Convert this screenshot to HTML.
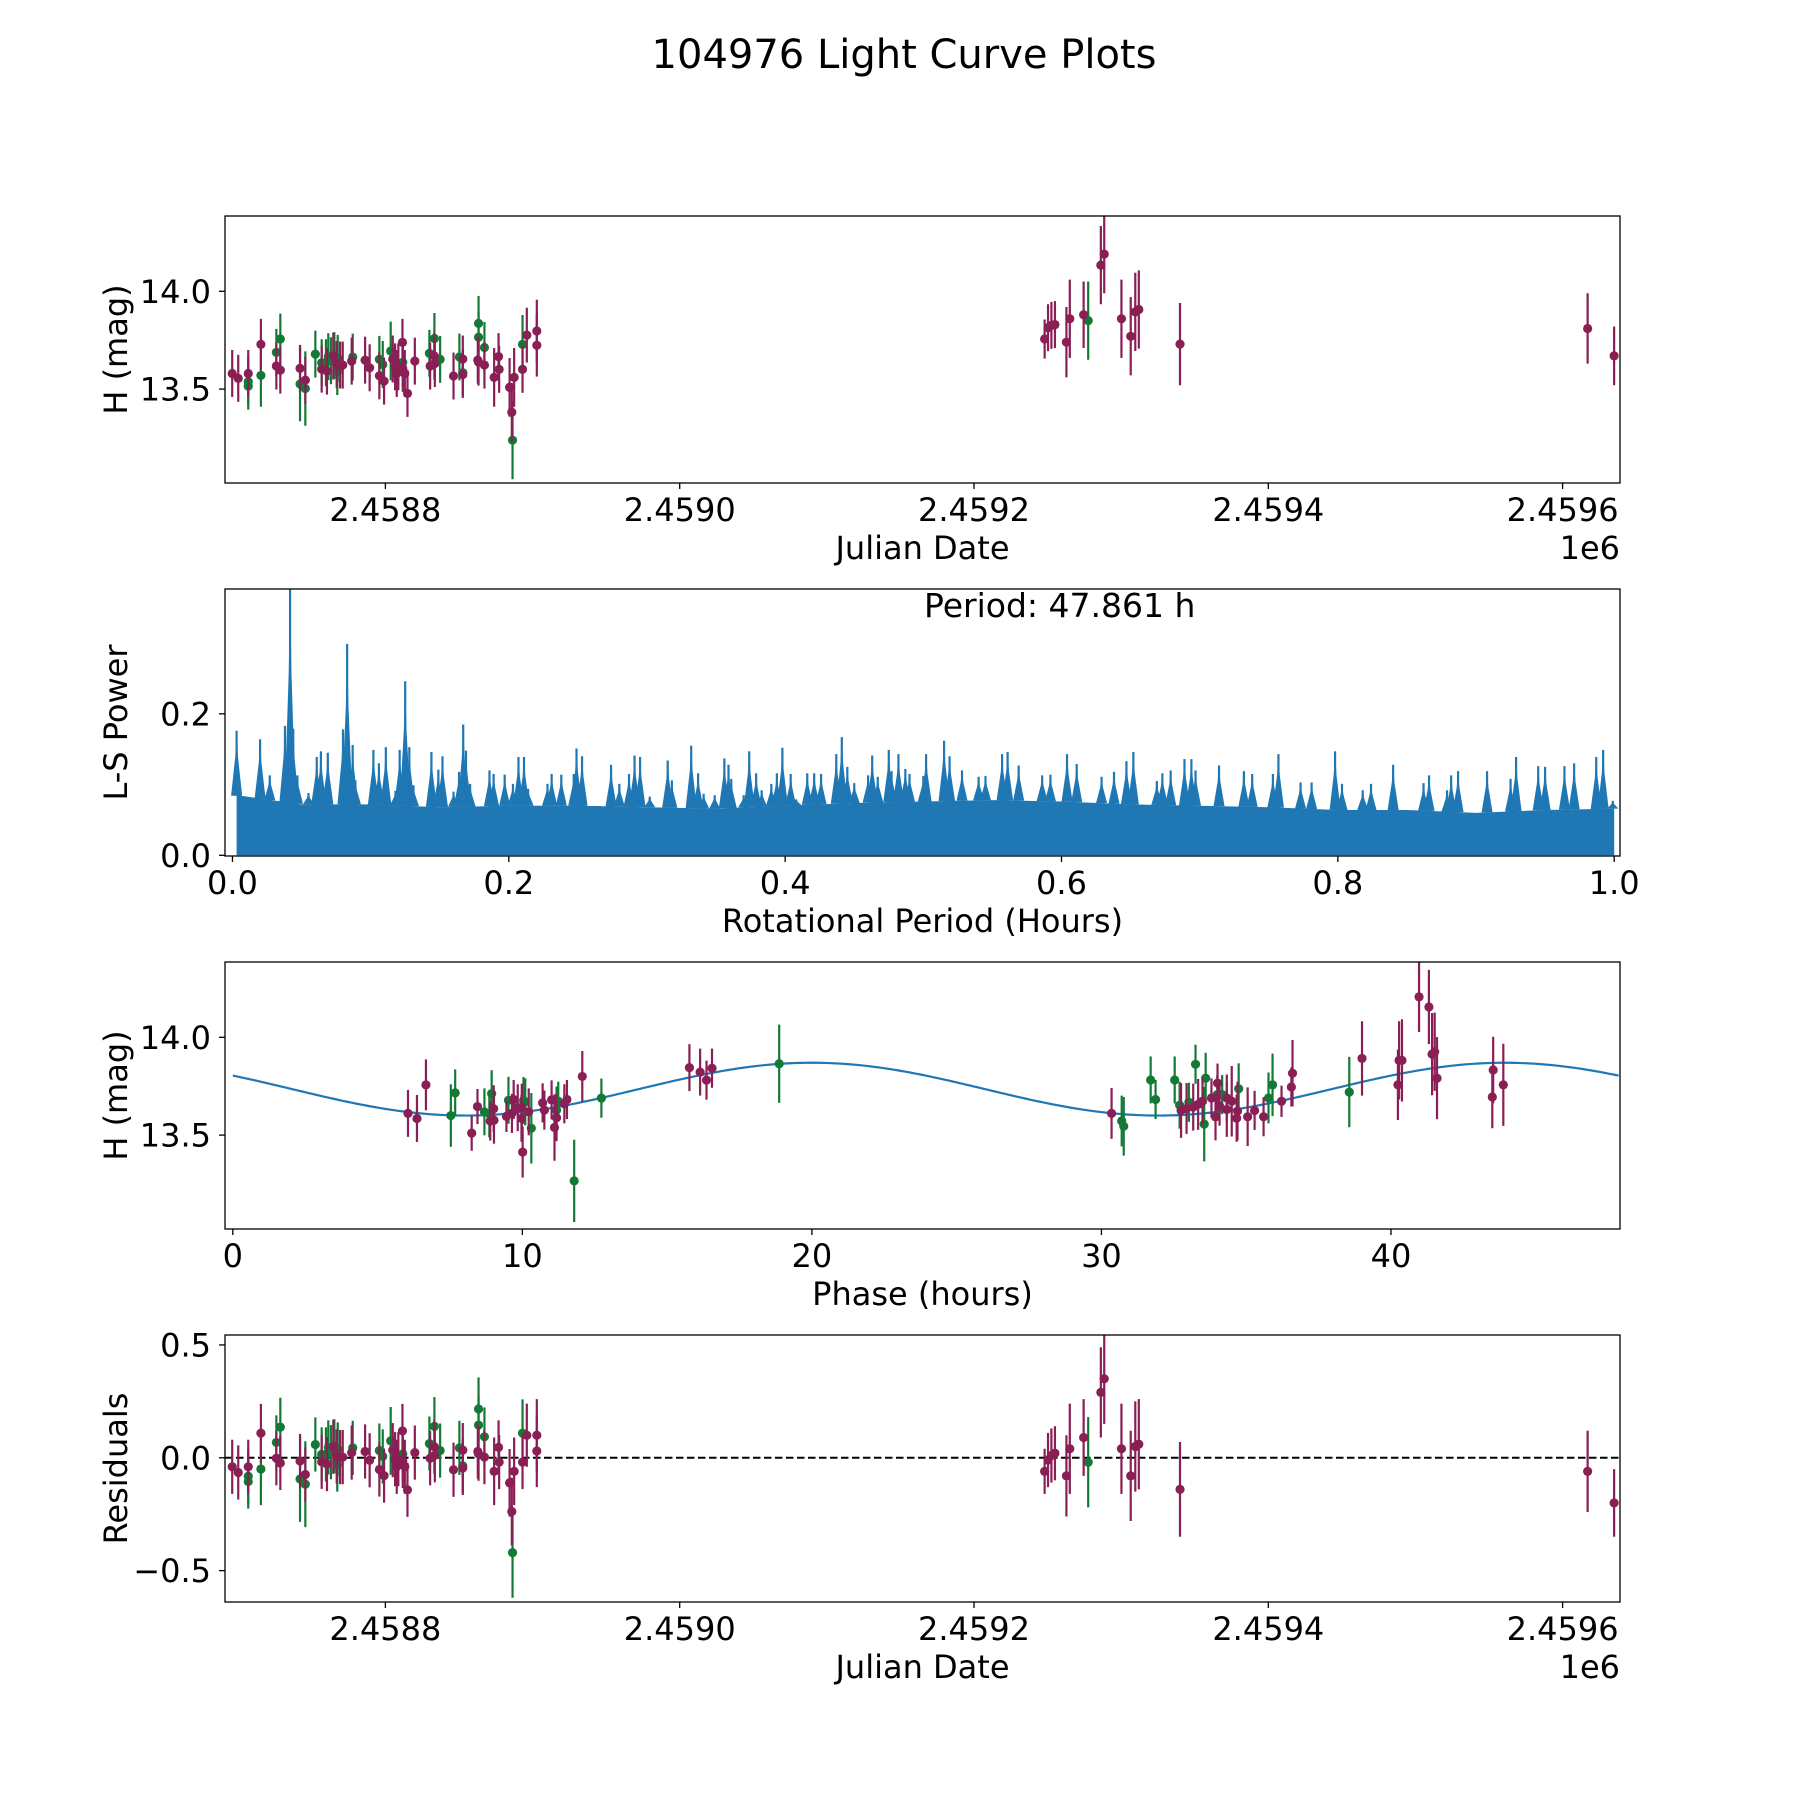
<!DOCTYPE html>
<html><head><meta charset="utf-8"><title>104976 Light Curve Plots</title>
<style>html,body{margin:0;padding:0;background:#fff}svg{display:block;font-family:"DejaVu Sans","Liberation Sans",sans-serif}</style>
</head><body>
<svg id="fig" width="1800" height="1800" viewBox="0 0 1800 1800" xmlns="http://www.w3.org/2000/svg">
<rect width="1800" height="1800" fill="#fff"/>
<text x="904" y="68" font-size="40" text-anchor="middle">104976 Light Curve Plots</text>
</svg>
<script>
// ---------- data: observations (JD) ----------
const jd = [2458695.9,2458700.0,2458706.8,2458706.8,2458706.8,2458715.4,2458715.4,2458725.9,2458725.9,2458728.6,2458728.6,2458742.0,2458742.0,2458745.6,2458745.6,2458752.4,2458756.7,2458756.7,2458759.6,2458760.3,2458761.2,2458763.0,2458764.6,2458765.3,2458766.9,2458767.6,2458767.3,2458769.2,2458771.0,2458777.8,2458777.1,2458786.2,2458789.3,2458795.9,2458795.9,2458798.2,2458799.1,2458803.6,2458805.0,2458806.6,2458807.7,2458808.8,2458811.8,2458811.8,2458811.6,2458813.2,2458815.0,2458820.0,2458829.9,2458830.4,2458833.3,2458833.3,2458833.6,2458837.2,2458846.3,2458850.3,2458852.6,2458852.6,2458852.6,2458863.3,2458863.3,2458862.8,2458863.3,2458867.3,2458867.3,2458873.9,2458876.9,2458877.3,2458884.4,2458885.9,2458886.4,2458887.5,2458893.2,2458893.2,2458896.1,2458902.9,2458902.9,
2459248.0,2459250.3,2459252.6,2459255.0,2459262.8,2459265.1,2459274.5,2459277.6,2459286.2,2459288.5,2459300.2,2459306.5,2459309.6,2459312.0,2459340.0,2459617.0,2459635.0];
const mag = [13.580,13.555,13.538,13.515,13.580,13.570,13.729,13.688,13.618,13.756,13.597,13.606,13.526,13.546,13.503,13.679,13.635,13.602,13.635,13.592,13.666,13.645,13.669,13.671,13.626,13.657,13.590,13.623,13.623,13.664,13.643,13.648,13.609,13.652,13.568,13.626,13.541,13.695,13.654,13.614,13.580,13.614,13.637,13.606,13.739,13.580,13.478,13.643,13.683,13.618,13.759,13.669,13.631,13.652,13.567,13.664,13.654,13.584,13.575,13.836,13.765,13.648,13.638,13.713,13.623,13.560,13.666,13.601,13.509,13.382,13.239,13.560,13.601,13.729,13.776,13.797,13.724,
13.756,13.814,13.826,13.830,13.740,13.860,13.880,13.850,14.134,14.190,13.860,13.770,13.895,13.907,13.730,13.810,13.670];
const magErr = [0.12,0.12,0.12,0.12,0.12,0.16,0.13,0.12,0.12,0.13,0.12,0.12,0.19,0.12,0.19,0.12,0.12,0.12,0.12,0.12,0.12,0.12,0.12,0.12,0.12,0.12,0.12,0.12,0.12,0.12,0.12,0.12,0.12,0.12,0.12,0.12,0.12,0.15,0.12,0.12,0.12,0.12,0.12,0.12,0.12,0.12,0.12,0.12,0.12,0.12,0.13,0.12,0.12,0.12,0.12,0.12,0.12,0.12,0.12,0.14,0.13,0.12,0.12,0.13,0.12,0.15,0.12,0.12,0.15,0.15,0.2,0.15,0.12,0.15,0.14,0.16,0.16,
0.1,0.12,0.12,0.12,0.18,0.2,0.17,0.2,0.2,0.2,0.2,0.2,0.2,0.2,0.21,0.18,0.15];
const band = ['p','p','g','g','p','g','p','g','p','g','p','p','g','p','g','g','g','p','g','p','g','g','p','g','p','g','g','p','p','g','p','p','p','g','p','g','p','g','p','p','p','p','g','p','p','p','p','p','g','p','g','p','p','g','p','g','p','g','p','g','g','p','p','g','p','p','p','p','p','p','g','p','p','g','p','p','p',
'p','p','p','p','p','p','p','g','p','p','p','p','p','p','p','p','p'];
const resid = [-0.04,-0.065,-0.082,-0.105,-0.04,-0.05,0.109,0.068,-0.002,0.136,-0.023,-0.014,-0.094,-0.074,-0.117,0.059,0.015,-0.018,0.015,-0.028,0.046,0.025,0.049,0.051,0.006,0.037,-0.03,0.003,0.003,0.044,0.023,0.028,-0.011,0.032,-0.052,0.006,-0.079,0.075,0.034,-0.006,-0.04,-0.006,0.017,-0.014,0.119,-0.04,-0.142,0.023,0.063,-0.002,0.139,0.049,0.011,0.032,-0.053,0.044,0.034,-0.036,-0.045,0.216,0.145,0.028,0.018,0.093,0.003,-0.06,0.046,-0.019,-0.111,-0.238,-0.42,-0.06,-0.019,0.109,0.10,0.10,0.03,
-0.06,-0.01,0.01,0.02,-0.08,0.04,0.09,-0.02,0.29,0.35,0.04,-0.08,0.05,0.06,-0.14,-0.06,-0.2];

// ---------- data: phased light curve ----------
const phase = [6.05,6.36,6.67,7.53,7.68,8.25,8.45,8.69,8.86,8.94,8.89,9.01,9.02,9.45,9.52,9.64,9.70,9.84,9.98,9.97,10.04,10.10,10.01,10.22,10.31,10.70,10.76,11.01,11.11,11.18,11.18,11.24,11.45,11.54,11.79,12.07,12.73,15.77,16.14,16.36,16.55,18.87,
30.35,30.70,30.77,31.70,31.87,32.53,32.70,32.75,32.94,33.02,33.17,33.34,33.25,33.49,33.55,33.60,33.80,33.94,34.01,34.00,34.08,34.17,34.33,34.33,34.50,34.67,34.70,34.74,35.05,35.29,35.60,35.77,35.91,36.22,36.56,36.60,38.56,39.00,40.24,40.28,40.38,40.97,41.31,41.42,41.51,41.59,43.50,43.53,43.88];
const phaseMag = [13.611,13.585,13.757,13.600,13.716,13.510,13.646,13.619,13.609,13.712,13.572,13.635,13.576,13.596,13.678,13.611,13.682,13.640,13.643,13.586,13.677,13.670,13.413,13.619,13.535,13.665,13.628,13.680,13.539,13.589,13.628,13.673,13.660,13.682,13.266,13.800,13.689,13.845,13.822,13.781,13.842,13.865,
13.611,13.572,13.545,13.782,13.682,13.782,13.653,13.626,13.636,13.668,13.643,13.657,13.862,13.673,13.556,13.791,13.690,13.593,13.766,13.707,13.648,13.707,13.690,13.631,13.673,13.586,13.623,13.737,13.594,13.626,13.594,13.690,13.757,13.673,13.746,13.816,13.720,13.892,13.757,13.882,13.882,14.207,14.155,13.914,13.926,13.791,13.695,13.833,13.757];
const phaseErr = [0.12,0.12,0.13,0.16,0.12,0.09,0.09,0.12,0.12,0.12,0.1,0.12,0.12,0.08,0.12,0.1,0.1,0.12,0.12,0.12,0.12,0.12,0.13,0.12,0.18,0.1,0.1,0.1,0.17,0.12,0.12,0.1,0.1,0.1,0.21,0.13,0.1,0.12,0.12,0.1,0.1,0.2,
0.13,0.13,0.15,0.12,0.1,0.12,0.12,0.14,0.13,0.1,0.12,0.13,0.1,0.12,0.19,0.13,0.1,0.12,0.1,0.1,0.1,0.1,0.12,0.14,0.18,0.12,0.15,0.13,0.15,0.1,0.1,0.13,0.16,0.08,0.1,0.17,0.18,0.19,0.18,0.2,0.21,0.18,0.19,0.21,0.2,0.21,0.16,0.17,0.21];
const phaseBand = ['p','p','p','g','g','p','p','g','g','g','p','p','p','p','g','p','p','p','p','p','g','g','p','p','g','p','p','p','p','p','g','g','p','p','g','p','g','p','p','p','p','g',
'p','g','g','g','g','g','g','p','p','g','p','p','g','p','g','g','p','p','p','g','p','g','p','p','p','p','p','g','p','p','p','g','g','p','p','p','g','p','p','p','p','p','p','p','p','p','p','p','p'];
const modelMean = 13.735;
const modelAmp = 0.135;
const modelPeakPhase = 20.0;
const modelHalfPeriod = 23.93;
const rotPeriod = 47.861;

// ---------- data: periodogram ----------
const lsPeriod = [.003,.020,.027,.038,.0417,.044,.047,.055,.061,.064,.069,.080,.083,.087,.089,.102,.106,.111,.118,.121,.125,.128,.131,.144,.149,.152,.160,.164,.167,.169,.172,.186,.189,.197,.203,.207,.211,.214,.228,.231,.238,.247,.249,.253,.263,.274,.280,.287,.291,.295,.302,.315,.318,.332,.337,.341,.349,.356,.359,.361,.370,.374,.379,.383,.390,.394,.398,.404,.408,.416,.421,.426,.437,.441,.445,.450,.460,.463,.467,.475,.477,.482,.487,.490,.500,
.502,.515,.519,.528,.540,.545,.557,.561,.569,.586,.592,.604,.611,.629,.638,.647,.652,.669,.673,.679,.689,.694,.697,.714,.732,.738,.753,.757,.773,.781,.798,.803,.818,.824,.840,.862,.866,.879,.882,.887,.908,.925,.929,.945,.950,.964,.971,.987,.992,.999];
const lsPower = [.176,.164,.113,.183,.38,.179,.113,.088,.139,.147,.145,.178,.299,.156,.106,.149,.130,.153,.091,.149,.246,.153,.099,.146,.121,.140,.090,.118,.185,.148,.101,.120,.115,.114,.101,.139,.139,.094,.101,.115,.114,.115,.151,.140,.064,.128,.101,.115,.141,.139,.083,.134,.106,.155,.116,.087,.085,.137,.128,.108,.085,.147,.116,.092,.101,.116,.152,.115,.079,.116,.116,.115,.143,.167,.125,.102,.113,.141,.111,.149,.119,.143,.122,.115,.112,
.143,.162,.140,.120,.111,.112,.143,.146,.127,.113,.114,.143,.129,.111,.118,.133,.146,.105,.116,.120,.136,.136,.120,.127,.119,.115,.115,.143,.103,.103,.147,.101,.092,.101,.128,.102,.113,.092,.113,.119,.119,.108,.139,.126,.125,.126,.130,.139,.149,.077];
const floorPeriod = [0,.05,.1,.15,.2,.25,.3,.35,.4,.45,.5,.55,.6,.65,.7,.75,.8,.85,.9,.95,1.0];
const floorPower = [.085,.072,.072,.068,.07,.07,.068,.066,.07,.074,.076,.078,.076,.072,.07,.068,.064,.064,.06,.064,.066];

// ---------- drawing helpers ----------
const NS = 'http://www.w3.org/2000/svg';
const svg = document.getElementById('fig');
const AX_L = 225, AX_R = 1620, AX_H = 267;
const PANEL_TOP = [216, 589, 962, 1335];
const PURPLE = '#8a1f55', GREEN = '#137a35', BLUE = '#1f77b4';
function el(tag, attrs, parent) {
  const e = document.createElementNS(NS, tag);
  for (const k in attrs) e.setAttribute(k, attrs[k]);
  (parent || svg).appendChild(e);
  return e;
}
function scale(d0, d1, r0, r1) { return v => r0 + (v - d0) / (d1 - d0) * (r1 - r0); }

function makeAxes(name, idx, xlim, ylim) {
  const top = PANEL_TOP[idx], bot = top + AX_H;
  const g = el('g', {});
  
  
  const clipId = 'clip' + idx;
  const cp = el('clipPath', {id: clipId}, g);
  el('rect', {x: AX_L, y: top, width: AX_R - AX_L, height: AX_H}, cp);
  const plot = el('g', {'clip-path': 'url(#' + clipId + ')'}, g);
  
  
  return {g, plot, top, bot, sx: scale(xlim[0], xlim[1], AX_L, AX_R), sy: scale(ylim[0], ylim[1], bot, top)};
}
function frame(ax, name) {
  const r = el('rect', {x: AX_L, y: ax.top, width: AX_R - AX_L, height: AX_H, fill: 'none', stroke: '#000', 'stroke-width': 1.3}, ax.g);
  
  
}
function xTicks(ax, vals, labels, name) {
  vals.forEach((v, i) => {
    const x = ax.sx(v);
    const t = el('line', {x1: x, x2: x, y1: ax.bot, y2: ax.bot + 6, stroke: '#000', 'stroke-width': 1.3}, ax.g);
    
    
    const tx = el('text', {x: x, y: ax.bot + 38, 'font-size': 32, 'text-anchor': 'middle'}, ax.g);
    tx.textContent = labels[i];
    
    
  });
}
function yTicks(ax, vals, labels, name) {
  vals.forEach((v, i) => {
    const y = ax.sy(v);
    const t = el('line', {x1: AX_L - 6, x2: AX_L, y1: y, y2: y, stroke: '#000', 'stroke-width': 1.3}, ax.g);
    
    
    const tx = el('text', {x: AX_L - 14, y: y + 11.5, 'font-size': 32, 'text-anchor': 'end'}, ax.g);
    tx.textContent = labels[i];
    
    
  });
}
function labels(ax, xl, yl, name) {
  const a = el('text', {x: (AX_L + AX_R) / 2, y: ax.bot + 76, 'font-size': 32, 'text-anchor': 'middle'}, ax.g);
  a.textContent = xl;
  
  
  const cy = ax.top + AX_H / 2;
  const b = el('text', {x: 127, y: cy, 'font-size': 32, 'text-anchor': 'middle', transform: 'rotate(-90 127 ' + cy + ')'}, ax.g);
  b.textContent = yl;
  
  
}
function offsetLabel(ax, name) {
  const t = el('text', {x: AX_R, y: ax.bot + 76, 'font-size': 32, 'text-anchor': 'end'}, ax.g);
  t.textContent = '1e6';
  
  
}
function errPoints(ax, xs, ys, errs, bands, name) {
  ['g', 'p'].forEach(b => {
    xs.forEach((xv, i) => {
      if (bands[i] !== b) return;
      const col = b === 'p' ? PURPLE : GREEN;
      const x = ax.sx(xv), y = ax.sy(ys[i]);
      const bar = el('line', {x1: x, x2: x, y1: ax.sy(ys[i] + errs[i]), y2: ax.sy(ys[i] - errs[i]), stroke: col, 'stroke-width': 2.2}, ax.plot);
      
      
      const c = el('circle', {cx: x, cy: y, r: 4.6, fill: col}, ax.plot);
      
      
    });
  });
}

// ---------- panel 1: light curve ----------
const jdLim = [2458691, 2459639];
const magLim = [13.02, 14.385];
const jdTicks = [2458800, 2459000, 2459200, 2459400, 2459600];
const jdTickLabels = ['2.4588', '2.4590', '2.4592', '2.4594', '2.4596'];
const magTicks = [13.5, 14.0];
const magTickLabels = ['13.5', '14.0'];
const ax1 = makeAxes('light-curve-panel', 0, jdLim, magLim);
errPoints(ax1, jd, mag, magErr, band, 'light-curve');
frame(ax1, 'light-curve');
xTicks(ax1, jdTicks, jdTickLabels, 'light-curve');
yTicks(ax1, magTicks, magTickLabels, 'light-curve');
labels(ax1, 'Julian Date', 'H (mag)', 'light-curve');
offsetLabel(ax1, 'light-curve');

// ---------- panel 2: periodogram ----------
const perLim = [-0.0054, 1.0042];
const powLim = [-0.001, 0.3765];
const perTicks = [0, 0.2, 0.4, 0.6, 0.8, 1.0];
const perTickLabels = ['0.0', '0.2', '0.4', '0.6', '0.8', '1.0'];
const powTicks = [0, 0.2];
const powTickLabels = ['0.0', '0.2'];
const ax2 = makeAxes('periodogram-panel', 1, perLim, powLim);
(function () {
  const floorAt = p => {
    for (let k = 0; k < floorPeriod.length - 1; k++) {
      if (p <= floorPeriod[k + 1]) {
        const f = (p - floorPeriod[k]) / (floorPeriod[k + 1] - floorPeriod[k]);
        return floorPower[k] + f * (floorPower[k + 1] - floorPower[k]);
      }
    }
    return floorPower[floorPower.length - 1];
  };
  let d = 'M' + ax2.sx(0.003) + ' ' + ax2.sy(0);
  floorPeriod.forEach((p, k) => { d += ' L' + ax2.sx(Math.max(p, 0.003)) + ' ' + ax2.sy(floorPower[k]); });
  d += ' L' + ax2.sx(1.0) + ' ' + ax2.sy(0) + ' Z';
  const base = el('path', {d: d, fill: BLUE}, ax2.plot);
  
  
  lsPeriod.forEach((p, i) => {
    const fl = floorAt(p);
    const hw = 0.004;
    const pts = [[p - hw, fl], [p - 0.001, fl + (lsPower[i] - fl) * 0.6], [p, lsPower[i]], [p + 0.001, fl + (lsPower[i] - fl) * 0.6], [p + hw, fl]];
    const poly = el('polygon', {points: pts.map(q => ax2.sx(q[0]) + ',' + ax2.sy(q[1])).join(' '), fill: BLUE}, ax2.plot);
    
    
    const ln = el('line', {x1: ax2.sx(p), x2: ax2.sx(p), y1: ax2.sy(fl), y2: ax2.sy(lsPower[i]), stroke: BLUE, 'stroke-width': 2.2}, ax2.plot);
    
    
  });
})();
frame(ax2, 'periodogram');
xTicks(ax2, perTicks, perTickLabels, 'periodogram');
yTicks(ax2, powTicks, powTickLabels, 'periodogram');
labels(ax2, 'Rotational Period (Hours)', 'L-S Power', 'periodogram');
(function () {
  const t = el('text', {x: 924, y: 617, 'font-size': 33}, ax2.g);
  t.textContent = 'Period: ' + rotPeriod.toFixed(3) + ' h';
  
  
})();

// ---------- panel 3: phased ----------
const phLim = [-0.27, 47.91];
const phTicks = [0, 10, 20, 30, 40];
const phTickLabels = ['0', '10', '20', '30', '40'];
const ax3 = makeAxes('phase-panel', 2, phLim, magLim);
(function () {
  let d = '';
  for (let k = 0; k <= 400; k++) {
    const ph = rotPeriod * k / 400;
    const m = modelMean + modelAmp * Math.cos(2 * Math.PI * (ph - modelPeakPhase) / modelHalfPeriod);
    d += (k ? ' L' : 'M') + ax3.sx(ph).toFixed(2) + ' ' + ax3.sy(m).toFixed(2);
  }
  const p = el('path', {d: d, fill: 'none', stroke: BLUE, 'stroke-width': 2.2}, ax3.plot);
  
  
})();
errPoints(ax3, phase, phaseMag, phaseErr, phaseBand, 'phase');
frame(ax3, 'phase');
xTicks(ax3, phTicks, phTickLabels, 'phase');
yTicks(ax3, magTicks, magTickLabels, 'phase');
labels(ax3, 'Phase (hours)', 'H (mag)', 'phase');

// ---------- panel 4: residuals ----------
const resLim = [-0.639, 0.544];
const resTicks = [-0.5, 0, 0.5];
const resTickLabels = ['\u22120.5', '0.0', '0.5'];
const ax4 = makeAxes('residuals-panel', 3, jdLim, resLim);
(function () {
  const z = el('line', {x1: AX_L, x2: AX_R, y1: ax4.sy(0), y2: ax4.sy(0), stroke: '#000', 'stroke-width': 2, 'stroke-dasharray': '7.5 3.5'}, ax4.plot);
  
  
})();
errPoints(ax4, jd, resid, magErr, band, 'residuals');
frame(ax4, 'residuals');
xTicks(ax4, jdTicks, jdTickLabels, 'residuals');
yTicks(ax4, resTicks, resTickLabels, 'residuals');
labels(ax4, 'Julian Date', 'Residuals', 'residuals');
offsetLabel(ax4, 'residuals');
</script>
</body></html>
